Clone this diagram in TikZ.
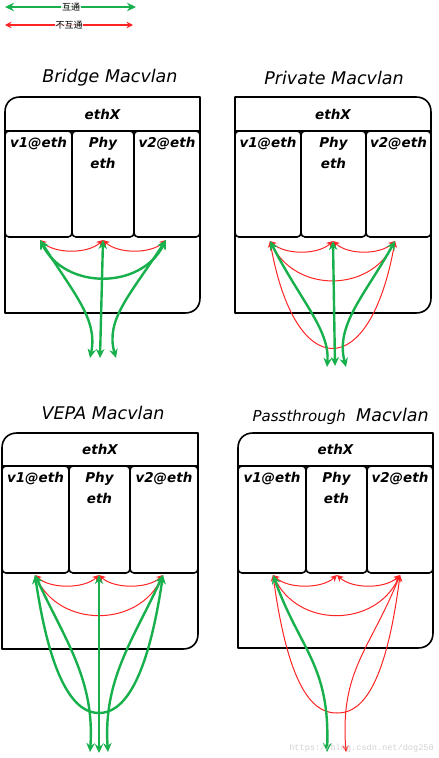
\documentclass[tikz,border=0pt]{standalone}
\usepackage{fontspec}
\setmainfont{DejaVu Sans}
\newfontfamily\cjk{Noto Sans CJK SC}
\newfontfamily\wmfont{Liberation Mono}
\usetikzlibrary{arrows.meta}
\definecolor{okgreen}{RGB}{24,176,76}
\definecolor{nored}{RGB}{255,36,36}
\tikzset{
  boxline/.style={draw=black,line width=1.6pt,line join=round},
  gline/.style={draw=okgreen,line width=2.4pt,{Stealth[length=9pt,width=8.5pt]}-{Stealth[length=9pt,width=8.5pt]}},
  rline/.style={draw=nored,line width=1pt,{Stealth[length=6.5pt,width=6.5pt]}-{Stealth[length=6.5pt,width=6.5pt]}},
  lbl/.style={font=\fontsize{13.5}{14}\selectfont\bfseries\itshape,inner sep=0pt},
  ttl/.style={font=\fontsize{17.5}{18}\selectfont\itshape,inner sep=0pt},
  legtxt/.style={font=\fontsize{9}{9}\selectfont\cjk,fill=white,fill opacity=0.85,text opacity=1,inner sep=0.6pt}
}
% L R T H S B d1 d2 prefix
\newcommand\mvsubs[9]{%
  \draw[boxline,rounded corners=4pt] (#1,#4) rectangle (#7,#5);
  \draw[boxline,rounded corners=4pt] (#7,#4) rectangle (#8,#5);
  \draw[boxline,rounded corners=4pt] (#8,#4) rectangle (#2,#5);
  \draw[boxline] (#1,#4) -- (#2,#4);
  \node[lbl] (#9eth) at ({(#1+#2)/2},{(#3+#4)/2}) {ethX};
  \node[lbl] (#9v1) at ({(#1+#7)/2},{#4+13}) {v1@eth};
  \node[lbl] (#9phy) at ({(#7+#8)/2},{#4+13}) {Phy};
  \node[lbl] (#9pe) at ({(#7+#8)/2},{#4+32}) {eth};
  \node[lbl] (#9v2) at ({(#8+#2)/2},{#4+13}) {v2@eth};
}
\begin{document}
\begin{tikzpicture}[x=1pt,y=-1pt]
\useasboundingbox (0,0) rectangle (439,758);

% legend
\coordinate (lg1) at (5,7); \coordinate (lg2) at (136,7);
\coordinate (lr1) at (5,25); \coordinate (lr2) at (133,25);
\draw[gline,line width=2.8pt] (lg1) -- (lg2);
\draw[rline,line width=1.3pt] (lr1) -- (lr2);
\node[legtxt] (lgt) at (71,7) {互通};
\node[legtxt] (lrt) at (69,25) {不互通};

% ---------- Bridge ----------
\node[ttl] (t1) at (110,78) {Bridge Macvlan};
\draw[boxline] (5,313) -- (5,112) .. controls (5,103) and (11,97) .. (20,97) -- (200,97) -- (200,298) .. controls (200,307) and (194,313) .. (185,313) -- cycle;
\mvsubs{5}{200}{97}{131}{237}{313}{72}{134}{b}
\coordinate (A1) at (40,240); \coordinate (A2) at (103,240); \coordinate (A3) at (166,240);
\coordinate (Ae1) at (90,358); \coordinate (Ae2) at (100,358); \coordinate (Ae3) at (116,358);
\draw[rline] (A1) .. controls (55,254) and (88,254) .. (A2);
\draw[rline] (A2) .. controls (118,254) and (151,254) .. (A3);
\draw[gline] (A1) .. controls (65,290) and (141,290) .. (A3);
\draw[gline] (A1) .. controls (75,295) and (98,320) .. (Ae1);
\draw[gline] (A2) -- (Ae2);
\draw[gline] (A3) .. controls (130,295) and (105,320) .. (Ae3);

% ---------- Private ----------
\node[ttl] (t2) at (334,78) {Private Macvlan};
\draw[boxline] (235,313) -- (235,97) -- (416,97) .. controls (425,97) and (431,103) .. (431,112) -- (431,298) .. controls (431,307) and (425,313) .. (416,313) -- cycle;
\mvsubs{235}{431}{97}{131}{237}{313}{301}{366}{p}
\coordinate (P1) at (270,241); \coordinate (P2) at (333,241); \coordinate (P3) at (395,241);
\coordinate (Pe1) at (327,367); \coordinate (Pe2) at (335,366); \coordinate (Pe3) at (346,367);
\draw[rline] (P1) .. controls (285,255) and (318,255) .. (P2);
\draw[rline] (P2) .. controls (348,255) and (380,255) .. (P3);
\draw[rline] (P1) .. controls (295,293) and (370,293) .. (P3);
\draw[rline] (P1) .. controls (295,383) and (370,383) .. (P3);
\draw[gline] (P1) .. controls (300,300) and (330,330) .. (Pe1);
\draw[gline] (P2) -- (Pe2);
\draw[gline] (P3) .. controls (365,295) and (335,325) .. (Pe3);

% ---------- VEPA ----------
\node[ttl] (t3) at (103,413) {VEPA Macvlan};
\draw[boxline] (2,649) -- (2,448) .. controls (2,439) and (8,433) .. (17,433) -- (198,433) -- (198,634) .. controls (198,643) and (192,649) .. (183,649) -- cycle;
\mvsubs{2}{198}{433}{466}{573}{649}{69}{130}{v}
\coordinate (V1) at (35,575); \coordinate (V2) at (99,575); \coordinate (V3) at (163,575);
\coordinate (Vb) at (99,713);
\coordinate (Ve1) at (90,752); \coordinate (Ve2) at (99,753); \coordinate (Ve3) at (108,752);
\draw[rline] (V1) .. controls (50,589) and (84,589) .. (V2);
\draw[rline] (V2) .. controls (114,589) and (148,589) .. (V3);
\draw[rline] (V1) .. controls (60,628) and (138,628) .. (V3);
\draw[gline] (V1) .. controls (52,690) and (78,713) .. (Vb) .. controls (120,713) and (146,690) .. (V3);
\draw[gline] (V1) .. controls (65,640) and (95,680) .. (Ve1);
\draw[gline] (V2) -- (Ve2);
\draw[gline] (V3) .. controls (133,640) and (103,680) .. (Ve3);

% ---------- Passthrough ----------
\node[ttl,anchor=base east] (t4a) at (346,421) {\fontsize{15}{16}\selectfont Passthrough};
\node[ttl,anchor=base west] (t4b) at (356,421) {Macvlan};
\draw[boxline] (238,648) -- (238,448) .. controls (238,439) and (244,433) .. (253,433) -- (433,433) -- (433,633) .. controls (433,642) and (427,648) .. (418,648) -- cycle;
\mvsubs{238}{433}{433}{466}{573}{648}{306}{367}{s}
\coordinate (T1) at (273,575); \coordinate (T2) at (337,575); \coordinate (T3) at (400,575);
\coordinate (Tb) at (337,713);
\coordinate (Te1) at (327,752); \coordinate (Te3) at (346,752);
\draw[rline] (T1) .. controls (288,589) and (322,589) .. (T2);
\draw[rline] (T2) .. controls (352,589) and (385,589) .. (T3);
\draw[rline] (T1) .. controls (298,628) and (375,628) .. (T3);
\draw[rline] (T1) .. controls (290,700) and (318,713) .. (Tb) .. controls (356,713) and (384,700) .. (T3);
\draw[rline] (T3) .. controls (370,650) and (340,670) .. (Te3);
\draw[gline] (T1) .. controls (300,650) and (330,665) .. (Te1);

% watermark
\node[font=\fontsize{8.6}{9}\selectfont\wmfont,text=black!18,anchor=east,inner sep=0pt] (wm) at (434,748) {https://blog.csdn.net/dog250};
\end{tikzpicture}
\end{document}
